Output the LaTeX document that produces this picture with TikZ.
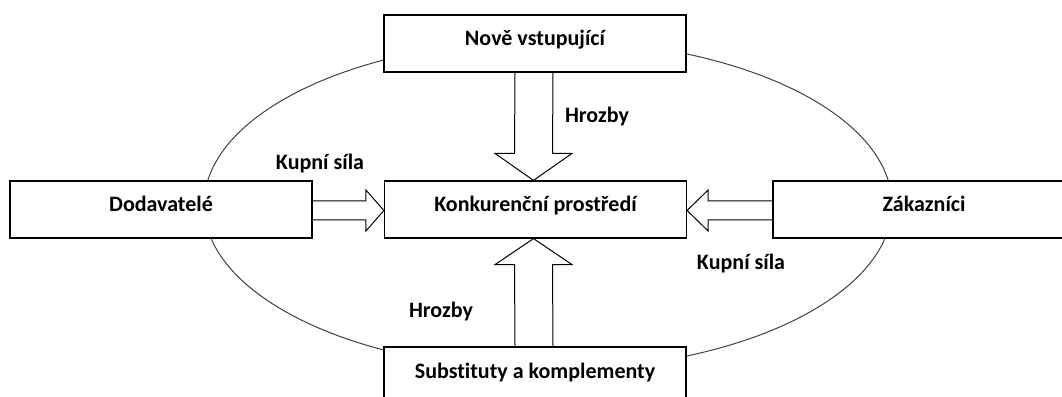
\documentclass[tikz,border=0pt]{standalone}
\usepackage{fontspec}
\setmainfont{Carlito}[Ligatures=NoCommon]
\usetikzlibrary{calc}

\tikzset{
  box/.style={draw, fill=white, line width=1.2pt, minimum width=302pt, minimum height=57pt,
    inner sep=0pt, text height=12pt, text depth=7pt, font=\fontsize{22}{26}\selectfont\bfseries},
  lbl/.style={anchor=base, inner sep=0pt, font=\fontsize{22}{26}\selectfont\bfseries},
  fatarrow/.style={draw, line width=1pt, line join=miter}
}

\begin{document}
\begin{tikzpicture}[x=1pt,y=1pt]
  \useasboundingbox (0,0) rectangle (1062,396);
  \clip (0,0) rectangle (1062,396);

  % elipsa kolem
  \draw[gray!50!black, line width=1pt] (548,191) ellipse (344 and 165);

  % boxy
  \node[box] (nove) at (535,352.5) {Nově vstupující};
  \node[box] (konk) at (535.5,186.5) {Konkurenční prostředí};
  \node[box] (dodav) at (161,186.5) {Dodavatelé};
  \node[box] (zakaz) at (924,186.5) {Zákazníci};
  \node[box] (subst) at (535,20.5) {Substituty a komplementy};

  % sipky
  \draw[fatarrow] ($(nove.south)+(-20,0)$) -- ($(konk.north)+(-21,27)$) -- ($(konk.north)+(-40.5,27)$)
    -- ($(konk.north)+(-2,0)$) -- ($(konk.north)+(36.5,27)$) -- ($(konk.north)+(17,27)$) -- ($(nove.south)+(18,0)$);
  \draw[fatarrow] ($(subst.north)+(-20,0)$) -- ($(konk.south)+(-21,-26)$) -- ($(konk.south)+(-40.5,-26)$)
    -- ($(konk.south)+(-2,0)$) -- ($(konk.south)+(36.5,-26)$) -- ($(konk.south)+(17,-26)$) -- ($(subst.north)+(18,0)$);
  \draw[fatarrow] ($(dodav.east)+(0,8.5)$) -- ($(konk.west)+(-18,8.5)$) -- ($(konk.west)+(-18,19.5)$)
    -- ($(konk.west)+(0,-1)$) -- ($(konk.west)+(-18,-21.5)$) -- ($(konk.west)+(-18,-10.5)$) -- ($(dodav.east)+(0,-10.5)$);
  \draw[fatarrow] ($(zakaz.west)+(0,8.5)$) -- ($(konk.east)+(21,8.5)$) -- ($(konk.east)+(21,19.5)$)
    -- ($(konk.east)+(0,-1)$) -- ($(konk.east)+(21,-21.5)$) -- ($(konk.east)+(21,-10.5)$) -- ($(zakaz.west)+(0,-10.5)$);

  % popisky
  \node[lbl] (hrozbyA) at (597,273) {Hrozby};
  \node[lbl] (kupniA) at (320,226) {Kupní síla};
  \node[lbl] (kupniB) at (741,126) {Kupní síla};
  \node[lbl] (hrozbyB) at (441,78) {Hrozby};
\end{tikzpicture}
\end{document}
